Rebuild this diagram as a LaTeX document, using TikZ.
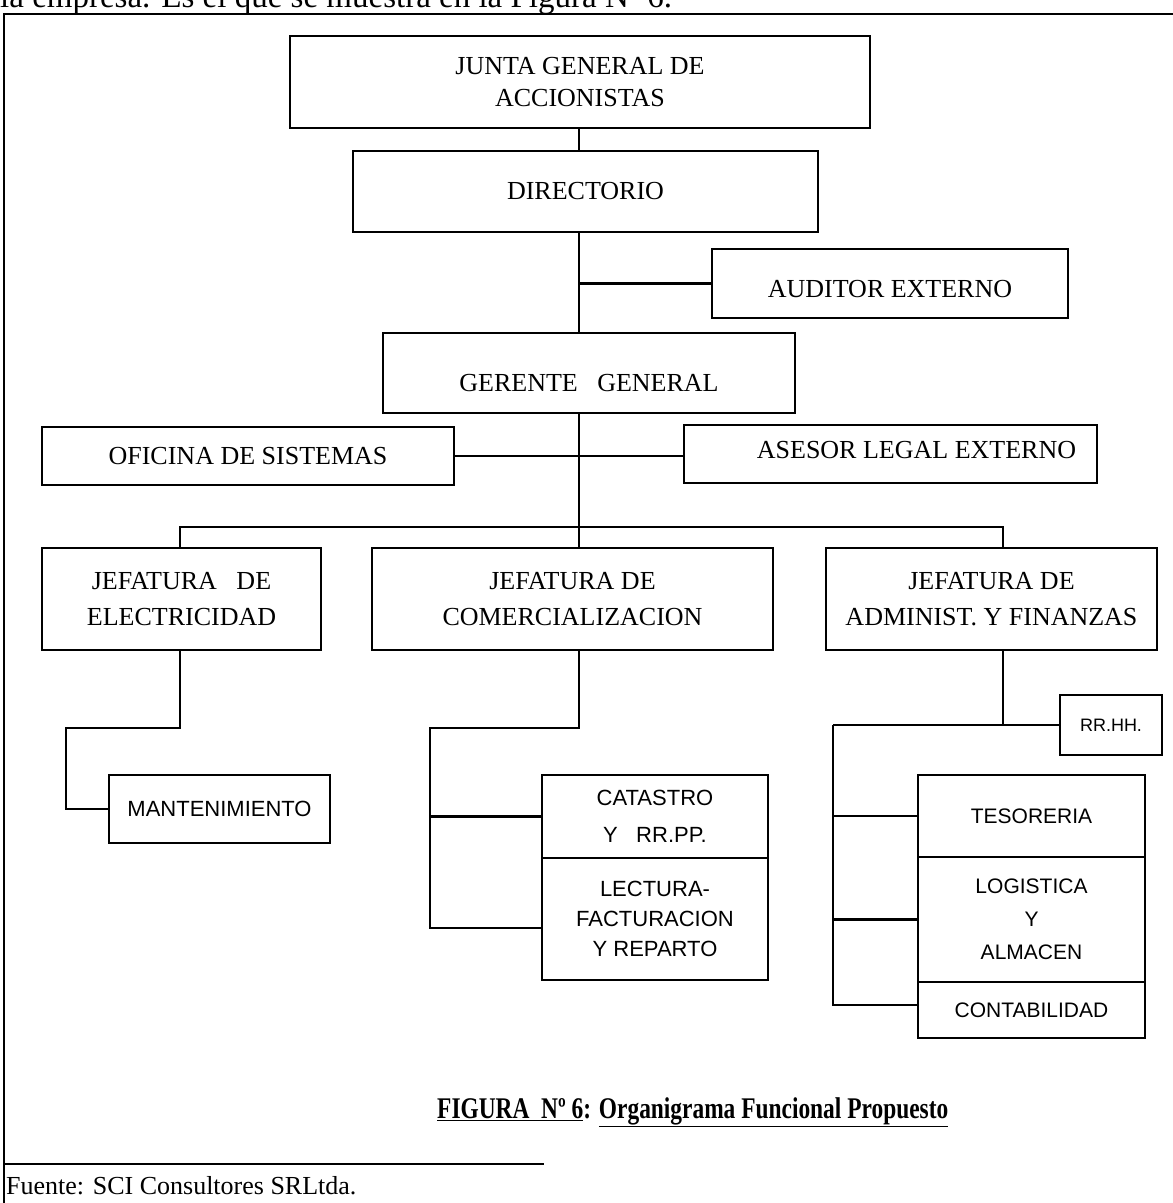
\documentclass[tikz,border=0pt]{standalone}
\usepackage{fontspec}
\setmainfont{Liberation Serif}
\newfontfamily\arialf{Liberation Sans}
\begin{document}
\begin{tikzpicture}[x=1pt,y=-1pt,
  bx/.style={draw, line width=2pt, inner sep=0pt, align=center},
  sbx/.style={bx, font=\fontsize{26}{32}\selectfont},
  abx/.style={bx, font=\arialf\fontsize{22}{34}\selectfont},
  conn/.style={line width=2.2pt},
  frm/.style={line width=1.5pt},
  lbl/.style={font=\fontsize{26}{32}\selectfont, inner sep=0pt}]
\useasboundingbox[fill=white] (0,0) rectangle (1173,1203);

% text cut at top of page
\node[anchor=base west, inner sep=0pt, font=\fontsize{33}{36}\selectfont] (toptext) at (0,7) {la empresa. Es el que se muestra en la Figura Nº 6.};

% outer frame
\draw[frm] (4,1203) -- (4,14) -- (1173,14);
\draw[frm] (4,1164) -- (544,1164);

% boxes
\node[sbx, minimum width=580, minimum height=92] (junta) at (580,82) {JUNTA GENERAL DE\\ACCIONISTAS};
\node[sbx, minimum width=465, minimum height=81] (dir) at (585.5,191.5) {DIRECTORIO};
\node[sbx, minimum width=356, minimum height=69,
  label={[lbl, yshift=-6pt]center:AUDITOR EXTERNO}] (aud) at (890,283.5) {};
\node[sbx, minimum width=412, minimum height=80,
  label={[lbl, yshift=-10pt]center:GERENTE\ \ \ GENERAL}] (ger) at (589,373) {};
\node[sbx, minimum width=412, minimum height=58] (ofi) at (248,456) {OFICINA DE SISTEMAS};
\node[sbx, minimum width=413, minimum height=58,
  label={[lbl, xshift=26pt, yshift=4pt]center:ASESOR LEGAL EXTERNO}] (ase) at (890.5,454) {};
\node[sbx, minimum width=279, minimum height=102, font=\fontsize{26}{36}\selectfont] (ele) at (181.5,599) {JEFATURA\ \ \ DE\\ELECTRICIDAD};
\node[sbx, minimum width=401, minimum height=102, font=\fontsize{26}{36}\selectfont] (com) at (572.5,599) {JEFATURA\ DE\\COMERCIALIZACION};
\node[sbx, minimum width=331, minimum height=102, font=\fontsize{26}{36}\selectfont] (adm) at (991.5,599) {JEFATURA\ DE\\ADMINIST.\ Y FINANZAS};

\node[abx, minimum width=221, minimum height=68] (man) at (219.5,809) {MANTENIMIENTO};
\node[abx, minimum width=226, minimum height=83, font=\arialf\fontsize{22}{37}\selectfont] (cat) at (655,816.5) {CATASTRO\\Y\ \ \ RR.PP.};
\node[abx, minimum width=226, minimum height=122, font=\arialf\fontsize{22}{30}\selectfont] (lec) at (655,919) {LECTURA-\\FACTURACION\\Y REPARTO};
\node[abx, minimum width=102, minimum height=60, font=\arialf\fontsize{18}{20}\selectfont] (rrh) at (1111,725) {RR.HH.};
\node[abx, minimum width=227, minimum height=82, font=\arialf\fontsize{21}{34}\selectfont] (tes) at (1031.5,816) {TESORERIA};
\node[abx, minimum width=227, minimum height=125, font=\arialf\fontsize{21}{33}\selectfont] (log) at (1031.5,919.5) {LOGISTICA\\Y\\ALMACEN};
\node[abx, minimum width=227, minimum height=56, font=\arialf\fontsize{21}{24}\selectfont] (con) at (1031.5,1010) {CONTABILIDAD};

% helper coordinates
\coordinate (sp) at (579,0);
\coordinate (busL) at (180,527);
\coordinate (busR) at (1003,527);
\coordinate (ek) at (66,728);
\coordinate (ck) at (430,728);
\coordinate (cl) at (430,928);
\coordinate (ak) at (833,725);
\coordinate (al) at (833,1005);

% connectors
\draw[conn] (junta.south -| sp) -- (dir.north -| sp);
\draw[conn] (dir.south -| sp) -- (ger.north -| sp);
\draw[conn] (aud.west -| sp) -- (aud.west);
\draw[conn] (ofi.east) -- (ofi.east -| ase.west);
\draw[conn] (ger.south -| sp) -- (com.north -| sp);
\draw[conn] (ele.north -| busL) -- (busL) -- (busR) -- (adm.north -| busR);
% electricidad
\draw[conn] (ele.south -| busL) |- (ek) |- (man.west);
% comercializacion
\draw[conn] (com.south -| sp) |- (ck) -- (cl) -- (cl -| lec.west);
\draw[conn] (ck |- cat.west) -- (cat.west);
% administracion
\draw[conn] (adm.south -| busR) -- (busR |- rrh.west);
\draw[conn] (ak) -- (rrh.west);
\draw[conn] (ak) -- (al) -- (al -| con.west);
\draw[conn] (ak |- tes.west) -- (tes.west);
\draw[conn] (ak |- log.west) -- (log.west);

% caption
\node[anchor=west, inner sep=0pt, font=\bfseries\fontsize{30}{34}\selectfont] (cap) at (437,1112) {\scalebox{0.78}[1]{\underline{FIGURA\ \ Nº 6}: \underline{Organigrama Funcional Propuesto}}};
\node[anchor=west, inner sep=0pt, font=\fontsize{26}{30}\selectfont] (src) at (6,1186) {Fuente: SCI Consultores SRLtda.};
\end{tikzpicture}
\end{document}
